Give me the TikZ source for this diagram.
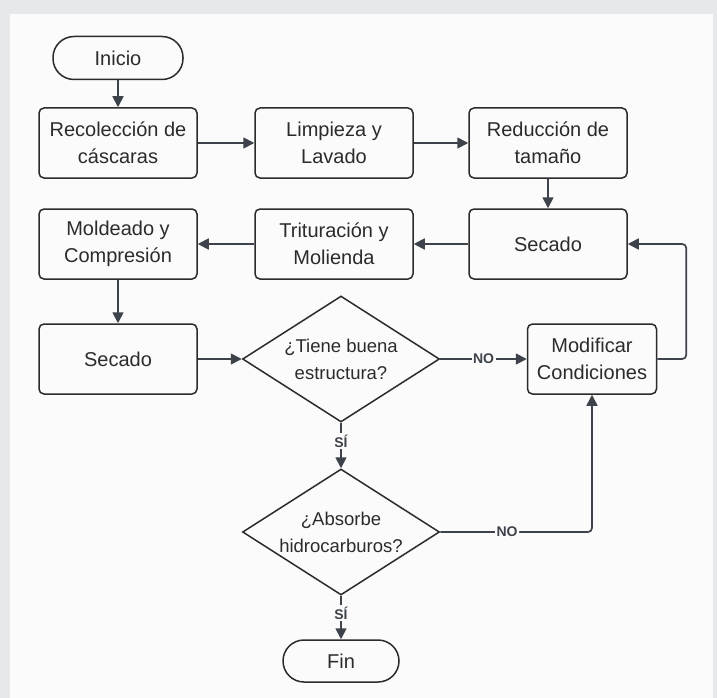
\documentclass[tikz,border=0pt]{standalone}
\usepackage{fontspec}
\setmainfont{Liberation Sans}
\usepackage{xcolor,tikz}
\usetikzlibrary{arrows.meta,positioning,shapes.geometric}
\definecolor{frame}{HTML}{E6E8EB}
\definecolor{paper}{HTML}{FBFBFB}
\definecolor{ink}{HTML}{2B2B2B}
\definecolor{slate}{HTML}{3E434B}
\tikzset{box/.style={draw=ink,line width=1.5pt,rounded corners=5pt,fill=paper,align=center,
  minimum width=158pt,minimum height=70pt,font=\fontsize{20}{27}\selectfont,text=ink},
  term/.style={box,rounded corners=21pt,minimum width=130pt,minimum height=43pt},
  decision/.style={diamond,draw=ink,line width=1.5pt,fill=paper,align=center,aspect=1.56,
  inner sep=-8pt,minimum width=197pt,minimum height=126pt,font=\fontsize{18.5}{27}\selectfont,text=ink},
  arrow/.style={-{Triangle[length=11pt,width=11pt]},line width=1.7pt,draw=slate},
  lbl/.style={fill=paper,inner sep=1.5pt,font=\bfseries\fontsize{14}{16}\selectfont,text=slate}}

\begin{document}
\begin{tikzpicture}[x=1pt,y=1pt]
\fill[frame] (0,0) rectangle (717,-698);
\fill[paper] (10,-14) rectangle (713,-698);
\node[term] (inicio) at (118,-58) {Inicio};
\node[box] (recol) at (118,-143) {Recolección de\\cáscaras};
\node[box] (limp) at (334,-143) {Limpieza y\\Lavado};
\node[box] (reduc) at (548,-143) {Reducción de\\tamaño};
\node[box] (secado1) at (548,-244) {Secado};
\node[box] (trit) at (334,-244) {Trituración y\\Molienda};
\node[box] (mold) at (118,-244) {Moldeado y\\Compresión};
\node[box] (secado2) at (118,-359) {Secado};
\node[decision] (estruc) at (341,-359) {¿Tiene buena\\estructura?};
\node[box,minimum width=129pt] (modif) at (592,-359) {Modificar\\Condiciones};
\node[decision] (absor) at (341,-532) {¿Absorbe\\hidrocarburos?};
\node[term,minimum width=116pt,minimum height=42pt] (fin) at (341,-661) {Fin};
\draw[arrow] (inicio) -- (recol);
\draw[arrow] (recol) -- (limp);
\draw[arrow] (limp) -- (reduc);
\draw[arrow] (reduc) -- (secado1);
\draw[arrow] (secado1) -- (trit);
\draw[arrow] (trit) -- (mold);
\draw[arrow] (mold) -- (secado2);
\draw[arrow] (secado2) -- (estruc);
\draw[arrow] (estruc) -- node[lbl]{NO} (modif);
\draw[arrow,rounded corners=4pt] (modif.east) -- ++(29,0) |- (secado1.east);
\draw[arrow] (estruc) -- node[lbl,pos=0.4]{SÍ} (absor);
\draw[arrow,rounded corners=4pt] (absor.east) -| node[lbl,pos=0.22]{NO} (modif.south);
\draw[arrow] (absor) -- node[lbl,pos=0.4]{SÍ} (fin);
\end{tikzpicture}
\end{document}
